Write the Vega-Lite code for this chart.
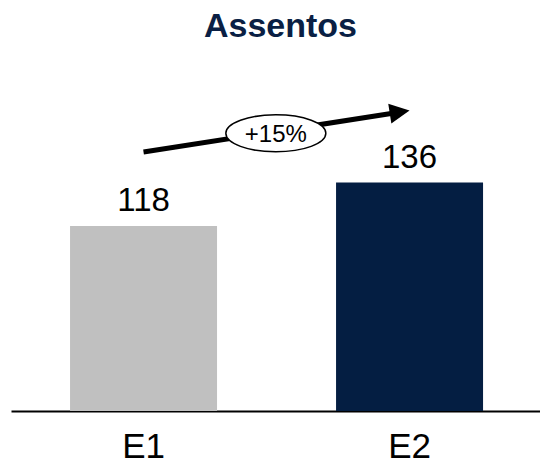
{
  "$schema": "https://vega.github.io/schema/vega-lite/v6.json",
  "autosize": {"type": "none"},
  "width": 529,
  "height": 351,
  "padding": {"left": 11, "top": 60, "right": 0, "bottom": 51},
  "title": {"text": "Assentos", "fontSize": 34, "font": "Liberation Sans", "fontWeight": "bold", "color": "#0A1F44", "anchor": "middle", "offset": -11, "baseline": "alphabetic", "dx": 5},
  "config": {
    "view": {"stroke": null},
    "font": "Liberation Sans",
    "axisX": {"title": null, "domainColor": "#000000", "domainWidth": 2, "ticks": false, "labelFontSize": 35, "labelColor": "#000000", "labelPadding": 18, "labelAngle": 0, "labelFont": "Liberation Sans", "grid": false}
  },
  "layer": [
    {
      "data": {"values": [{"cat": "E1", "v": 118}, {"cat": "E2", "v": 136}]},
      "mark": {"type": "bar"},
      "encoding": {
        "x": {"field": "cat", "type": "nominal", "scale": {"domain": ["E1", "E2"], "paddingInner": 0.4474, "paddingOuter": 0.218, "align": 0.509}},
        "y": {"field": "v", "type": "quantitative", "scale": {"domain": [41, 187], "clamp": true, "nice": false, "zero": false}, "axis": null},
        "color": {"field": "cat", "type": "nominal", "scale": {"domain": ["E1", "E2"], "range": ["#C0C0C0", "#041E42"]}, "legend": null}
      }
    },
    {
      "data": {"values": [{"cat": "E1", "v": 118}, {"cat": "E2", "v": 136}]},
      "mark": {"type": "text", "fontSize": 33, "baseline": "alphabetic", "dy": -15, "color": "#000000"},
      "encoding": {
        "x": {"field": "cat", "type": "nominal"},
        "y": {"field": "v", "type": "quantitative", "axis": null},
        "text": {"field": "v", "type": "quantitative"}
      }
    },
    {
      "data": {"values": [{"cat": "E1", "cat2": "E2", "y1": 148.7, "y2": 166}]},
      "mark": {"type": "rule", "strokeWidth": 5, "color": "#000000", "x2Offset": -12, "y2Offset": 2},
      "encoding": {
        "x": {"field": "cat", "type": "nominal"},
        "x2": {"field": "cat2"},
        "y": {"field": "y1", "type": "quantitative", "axis": null},
        "y2": {"field": "y2"}
      }
    },
    {
      "data": {"values": [{"cat": "E2", "y": 166}]},
      "mark": {"type": "point", "shape": "M-2,-1 L0,0 L-2,1 Z", "size": 400, "filled": true, "color": "#000000", "opacity": 1, "angle": -8.9},
      "encoding": {
        "x": {"field": "cat", "type": "nominal"},
        "y": {"field": "y", "type": "quantitative", "axis": null}
      }
    },
    {
      "data": {"values": [{"cat": "E1", "y": 156.5, "label": "+15%"}]},
      "mark": {"type": "point", "shape": "M1,0 C1,0.2044 0.5523,0.37 0,0.37 C-0.5523,0.37 -1,0.2044 -1,0 C-1,-0.2044 -0.5523,-0.37 0,-0.37 C0.5523,-0.37 1,-0.2044 1,0 Z", "size": 10000, "filled": true, "fill": "#FFFFFF", "stroke": "#000000", "strokeWidth": 1.5, "opacity": 1},
      "encoding": {
        "x": {"field": "cat", "type": "nominal", "bandPosition": 1.4},
        "y": {"field": "y", "type": "quantitative", "axis": null}
      }
    },
    {
      "data": {"values": [{"cat": "E1", "y": 156.5, "label": "+15%"}]},
      "mark": {"type": "text", "fontSize": 24, "baseline": "alphabetic", "dy": 9, "color": "#000000"},
      "encoding": {
        "x": {"field": "cat", "type": "nominal", "bandPosition": 1.4},
        "y": {"field": "y", "type": "quantitative", "axis": null},
        "text": {"field": "label", "type": "nominal"}
      }
    }
  ]
}
